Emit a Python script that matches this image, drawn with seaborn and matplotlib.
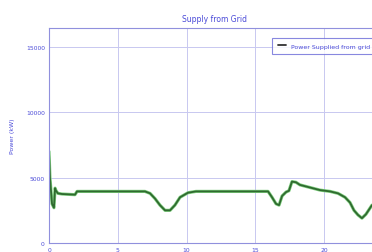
import matplotlib
matplotlib.use("Agg")
import matplotlib.pyplot as plt
import matplotlib.patheffects as pe
import seaborn as sns
import pandas as pd

hours = [0.00, 0.07, 0.22, 0.36, 0.44, 0.51, 0.65, 0.95, 1.89, 2.04, 6.98, 7.35,
         7.71, 8.07, 8.44, 8.80, 9.16, 9.53, 10.11, 10.69, 15.93, 16.22, 16.51,
         16.73, 16.95, 17.24, 17.45, 17.67, 17.96, 18.25, 18.98, 19.71, 20.44,
         21.02, 21.53, 21.89, 22.18, 22.47, 22.76, 23.05, 23.49]
power_kw = [7000, 5000, 3000, 2700, 4200, 4000, 3800, 3750, 3700, 3950, 3950, 3800,
            3400, 2900, 2500, 2500, 2900, 3500, 3850, 3950, 3950, 3500, 3000,
            2900, 3600, 3900, 4000, 4700, 4650, 4450, 4250, 4050, 3950,
            3800, 3500, 3100, 2500, 2150, 1900, 2200, 2900]
y_ticks = [0, 5000, 10000, 15000]
x_ticks = [0, 5, 10, 15, 20]
series_name = "Power Supplied from grid"

df = pd.DataFrame({"hour": hours, "power": power_kw, "series": series_name})

sns.set_style("white")
plt.rcParams["font.family"] = ["DejaVu Sans"]

fig = plt.figure(figsize=(3.72, 2.53), dpi=100)
ax = fig.add_axes([49 / 372, 9 / 253, 330 / 372, 215 / 253])

blue = "#4a4ad8"
sns.lineplot(data=df, x="hour", y="power", hue="series", palette=["#2f6a2f"],
             lw=1.3, ax=ax,
             path_effects=[pe.Stroke(linewidth=2.3, foreground="#80d080"), pe.Normal()])

ax.set_xlim(0, 24)
ax.set_ylim(0, 16460)
ax.set_xticks(x_ticks)
ax.set_yticks(y_ticks)
ax.grid(True, color="#c8c8f0", lw=0.7)
for s in ax.spines.values():
    s.set_color("#9090dd")
    s.set_linewidth(0.8)
ax.tick_params(axis="both", labelsize=4.3, colors="#9090dd", labelcolor=blue,
               length=2, width=0.6, pad=1)
ax.set_xlabel("")
ax.set_ylabel("Power (kW)", fontsize=4.5, color=blue, labelpad=8)
ax.set_title("Supply from Grid", fontsize=5.5, color=blue, pad=5)

leg = ax.legend(loc="upper left", bbox_to_anchor=(0.676, 0.955), fontsize=4.5,
                frameon=True, fancybox=False, handlelength=1.4, borderpad=0.9,
                labelcolor=blue, borderaxespad=0)
leg.get_frame().set_edgecolor("#6a6ad8")
leg.get_frame().set_linewidth(0.8)
for h in leg.get_lines():
    h.set_color("#333333")
    h.set_path_effects([])

fig.savefig("out.png", dpi=100)
